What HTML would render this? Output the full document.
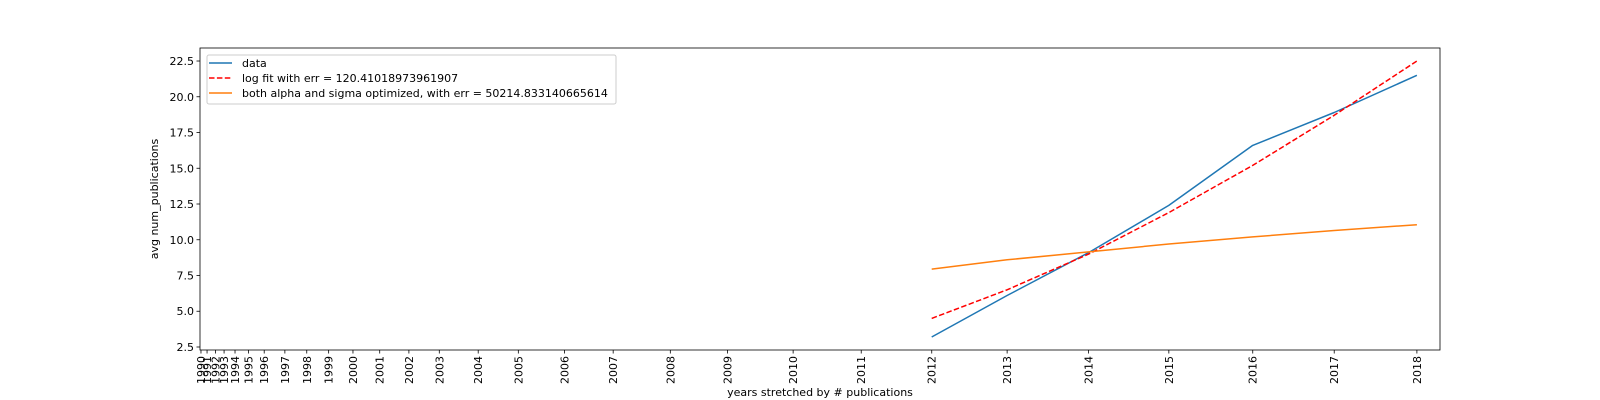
<!DOCTYPE html>
<html><head><meta charset="utf-8"><style>
html,body{margin:0;padding:0;background:#fff;}
svg{display:block;font-family:"DejaVu Sans","Liberation Sans",sans-serif;}
</style></head><body>
<svg id="chart" width="1600" height="400" viewBox="0 0 1600 400" xmlns="http://www.w3.org/2000/svg">
<rect x="0" y="0" width="1600" height="400" fill="#fff"/>
<g id="plot"></g>
<text x="820" y="396" font-size="11" text-anchor="middle" fill="#000">years stretched by # publications</text>
<text transform="translate(158,199) rotate(-90)" font-size="11" text-anchor="middle" fill="#000">avg num_publications</text>
</svg>
<script>
const tickYears = [1990,1991,1992,1993,1994,1995,1996,1997,1998,1999,2000,2001,2002,2003,2004,2005,2006,2007,2008,2009,2010,2011,2012,2013,2014,2015,2016,2017,2018];
const tickStretch = [0,0.5,1.2,1.9,2.8,3.9,5.2,6.9,8.7,10.5,12.5,14.7,17.1,19.6,22.8,26.1,29.9,33.9,38.6,43.3,48.7,54.3,60.1,66.3,73.0,79.6,86.5,93.2,100];
const dataYears = [2012,2013,2014,2015,2016,2017,2018];
const dataValues = [3.2,6.1,9.1,12.4,16.6,18.9,21.5];
const logFitValues = [4.5,6.5,9.0,11.9,15.2,18.7,22.5];
const optimizedValues = [7.95,8.6,9.15,9.7,10.2,10.65,11.05];
const yTicks = [2.5,5.0,7.5,10.0,12.5,15.0,17.5,20.0,22.5];

const NS='http://www.w3.org/2000/svg';
const L=200,R=1440,T=48,B=350;
const xMin=-0.08,xMax=101.9,yMin=2.29,yMax=23.41;
function xs(v){return L+(v-xMin)/(xMax-xMin)*(R-L);}
function ys(v){return B-(v-yMin)/(yMax-yMin)*(B-T);}
function stretchOf(year){return tickStretch[tickYears.indexOf(year)];}
const plot=document.getElementById('plot');
function mk(tag,attrs,parent){const e=document.createElementNS(NS,tag);for(const k in attrs)e.setAttribute(k,attrs[k]);(parent||plot).appendChild(e);return e;}

yTicks.forEach(v=>{
  const y=ys(v);
  const t=mk('line',{x1:L-3.5,x2:L,y1:y,y2:y,stroke:'#000','stroke-width':0.8});
  
  
  const lb=mk('text',{x:L-6,y:y+4,'font-size':11,'text-anchor':'end',fill:'#000'});
  lb.textContent=v.toFixed(1);
  
  
});
tickYears.forEach((yr,i)=>{
  const x=xs(tickStretch[i]);
  const t=mk('line',{x1:x,x2:x,y1:B,y2:B+3.5,stroke:'#000','stroke-width':0.8});
  
  
  const lb=mk('text',{transform:'translate('+(x+4)+','+(B+6)+') rotate(-90)','font-size':11,'text-anchor':'end',fill:'#000'});
  lb.textContent=String(yr);
  
  
});
function series(vals,color,dash,name){
  const pts=dataYears.map((yr,i)=>xs(stretchOf(yr)).toFixed(1)+','+ys(vals[i]).toFixed(1)).join(' ');
  const a={points:pts,fill:'none',stroke:color,'stroke-width':1.5,'stroke-linejoin':'round'};
  if(dash)a['stroke-dasharray']=dash;
  const p=mk('polyline',a);
  
  
}
series(dataValues,'#1f77b4',null,'data-line');
series(logFitValues,'#ff0000','5.5,2.4','log-fit-line');
series(optimizedValues,'#ff7f0e',null,'optimized-line');

const frame=mk('rect',{x:L,y:T,width:R-L,height:B-T,fill:'none',stroke:'#000','stroke-width':0.8});



const lg=mk('g',{});


mk('rect',{x:207,y:55,width:409,height:49,rx:2,fill:'#fff','fill-opacity':0.8,stroke:'#ccc','stroke-width':1},lg);
const entries=[['data','#1f77b4',null],['log fit with err = 120.41018973961907','#ff0000','5.5,2.4'],['both alpha and sigma optimized, with err = 50214.833140665614','#ff7f0e',null]];
entries.forEach((e,i)=>{
  const y=63+i*15;
  const g=mk('g',{},lg);
  
  
  const la={x1:209,x2:232,y1:y,y2:y,stroke:e[1],'stroke-width':1.5};
  if(e[2])la['stroke-dasharray']=e[2];
  mk('line',la,g);
  const t=mk('text',{x:242,y:y+4,'font-size':11,fill:'#000'},g);
  t.textContent=e[0];
});
</script>
</body></html>
